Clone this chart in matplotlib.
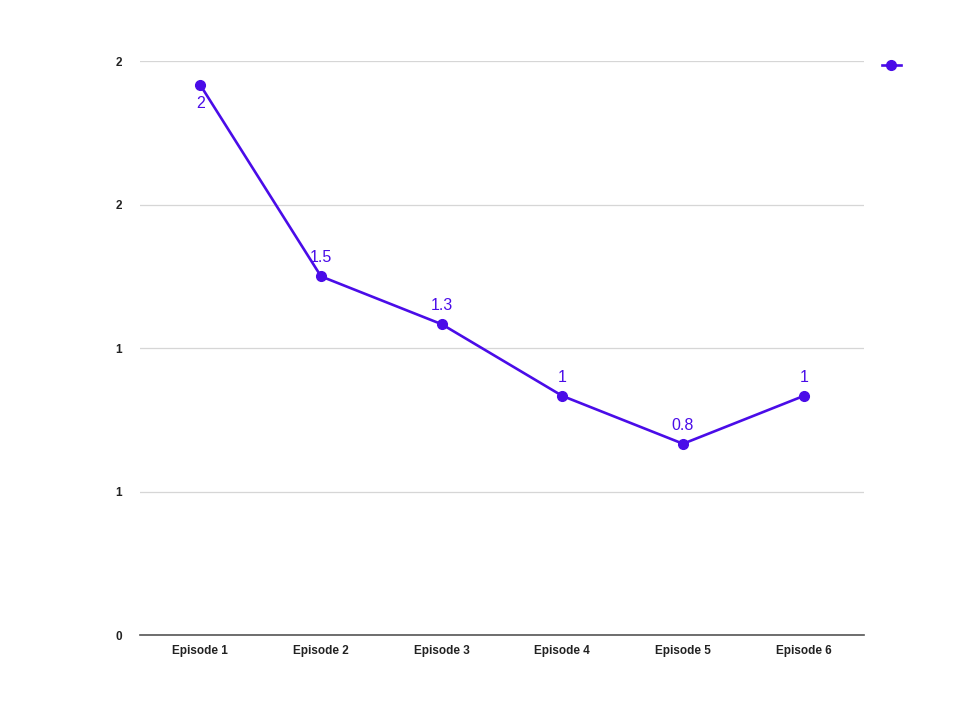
import matplotlib.pyplot as plt

episodes = ['Episode 1', 'Episode 2', 'Episode 3', 'Episode 4', 'Episode 5', 'Episode 6']
values = [2.3, 1.5, 1.3, 1.0, 0.8, 1.0]
point_labels = ['2', '1.5', '1.3', '1', '0.8', '1']
y_ticks = [0, 0.6, 1.2, 1.8, 2.4]
y_tick_labels = ['0', '1', '1', '2', '2']

color = '#4A0CE8'
plt.rcParams['font.family'] = ['Liberation Sans', 'DejaVu Sans']

fig = plt.figure(figsize=(9.59, 7.2), dpi=100)
ax = fig.add_axes([0.146, 0.118, 0.755, 0.797])

x = list(range(len(episodes)))
line, = ax.plot(x, values, color=color, lw=1.9, marker='o', markersize=7, label=' ', zorder=3)

for i, (v, lab) in enumerate(zip(values, point_labels)):
    if i == 0:
        ax.annotate(lab, (i, v), xytext=(0, -8), textcoords='offset points',
                    ha='center', va='top', fontsize=11.5, color=color)
    else:
        ax.annotate(lab, (i, v), xytext=(0, 8), textcoords='offset points',
                    ha='center', va='bottom', fontsize=11.5, color=color)

ax.set_xlim(-0.5, len(episodes) - 0.5)
ax.set_ylim(0, 2.4)
ax.set_xticks(x)
ax.set_xticklabels(episodes, fontsize=8.5, fontweight='bold', color='#222222')
ax.set_yticks(y_ticks)
ax.set_yticklabels(y_tick_labels, fontsize=8.5, fontweight='bold', color='#222222')
ax.tick_params(length=0)
ax.tick_params(axis='y', pad=13)
ax.tick_params(axis='x', pad=7)

ax.grid(axis='y', color='#d6d6d6', lw=0.9)
ax.set_axisbelow(True)
for s in ['top', 'right', 'left']:
    ax.spines[s].set_visible(False)
ax.spines['bottom'].set_color('#555555')
ax.spines['bottom'].set_linewidth(1.2)

fig.legend(handles=[line], labels=[''], loc='center left', bbox_to_anchor=(0.912, 0.908),
           frameon=False, handlelength=1.4, handletextpad=0, borderpad=0)

fig.savefig('out.png', dpi=100, facecolor='white')
